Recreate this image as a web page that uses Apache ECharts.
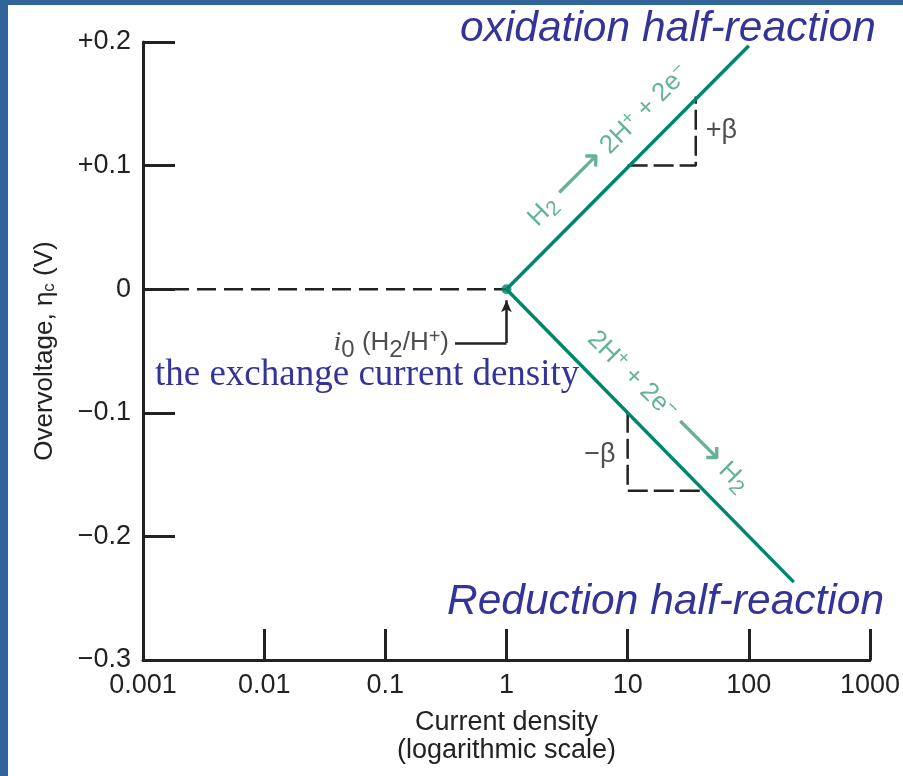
<!DOCTYPE html>
<html>
<head>
<meta charset="utf-8">
<script src="https://cdn.jsdelivr.net/npm/echarts@6/dist/echarts.min.js"></script>
<style>
  html, body { margin: 0; padding: 0; background: #fff; }
  #chart { width: 903px; height: 776px; }
</style>
</head>
<body>
<div id="chart"></div>
<script>
// axis ticks
const xTicks = ['0.001', '0.01', '0.1', '1', '10', '100', '1000'];
const yTicks = ['\u22120.3', '\u22120.2', '\u22120.1', '0', '+0.1', '+0.2'];

// overvoltage lines (current density, overvoltage)
const oxCurrent = [1, 100];
const oxEta = [0, 0.197];
const redCurrent = [1, 235];
const redEta = [0, -0.237];

// exchange current density point
const i0 = [1, 0];

// slope triangles
const plusBetaI = [10, 36.5, 36.5];
const plusBetaEta = [0.1, 0.1, 0.156];
const minusBetaI = [10, 10, 42];
const minusBetaEta = [-0.1, -0.163, -0.163];

const green = '#00876a';
const lightGreen = '#3f9f80';
const navy = '#333399';
const ink = '#222';

const zip = (a, b) => a.map((v, i) => [v, b[i]]);

// rich styles for the reaction labels on the lines
const reactRich = {
  b: { fontFamily: 'Liberation Sans', fontSize: 26, color: lightGreen },
  s: { fontFamily: 'Liberation Sans', fontSize: 21, color: lightGreen, padding: [12, 0, 0, 0] },
  p: { fontFamily: 'Liberation Sans', fontSize: 19, color: lightGreen, padding: [0, 0, 12, 0] },
  a: { fontFamily: 'DejaVu Sans', fontSize: 40, color: lightGreen }
};

const chart = echarts.init(document.getElementById('chart'));

chart.setOption({
  backgroundColor: '#ffffff',
  animation: false,
  grid: { left: 143, right: 33, top: 42, bottom: 116, containLabel: false },
  xAxis: {
    type: 'log',
    logBase: 10,
    min: 0.001,
    max: 1000,
    name: 'Current density\n(logarithmic scale)',
    nameLocation: 'middle',
    nameGap: 49,
    nameTextStyle: { fontFamily: 'Liberation Sans', fontSize: 27, color: ink, lineHeight: 28 },
    axisLine: { onZero: false, lineStyle: { color: ink, width: 3 } },
    axisTick: { inside: true, length: 31, lineStyle: { color: ink, width: 3 } },
    minorTick: { show: false },
    splitLine: { show: false },
    axisLabel: {
      margin: 12,
      fontFamily: 'Liberation Sans',
      fontSize: 27,
      color: ink,
      formatter: (v, i) => xTicks[i]
    }
  },
  yAxis: {
    type: 'value',
    min: -0.3,
    max: 0.2,
    interval: 0.1,
    name: 'Overvoltage, \u03b7{s|c} (V)',
    nameLocation: 'middle',
    nameRotate: 90,
    nameGap: 85,
    nameTextStyle: {
      fontFamily: 'Liberation Sans', fontSize: 26, color: ink,
      rich: { s: { fontFamily: 'Liberation Sans', fontSize: 17, color: ink, padding: [10, 0, 0, 0] } }
    },
    axisLine: { show: true, onZero: false, lineStyle: { color: ink, width: 3 } },
    axisTick: { show: true, inside: true, length: 32, lineStyle: { color: ink, width: 3 } },
    splitLine: { show: false },
    axisLabel: {
      margin: 12,
      fontFamily: 'Liberation Sans',
      fontSize: 27,
      color: ink,
      formatter: (v, i) => yTicks[i]
    }
  },
  series: [
    {
      type: 'line',
      data: zip([0.001, i0[0]], [0, i0[1]]),
      symbol: 'none',
      lineStyle: { color: ink, width: 2.5, type: [19, 8] },
      z: 2
    },
    {
      type: 'line',
      data: zip(plusBetaI, plusBetaEta),
      symbol: 'none',
      lineStyle: { color: ink, width: 2.5, type: [20, 6] },
      z: 2
    },
    {
      type: 'line',
      data: zip(minusBetaI, minusBetaEta),
      symbol: 'none',
      lineStyle: { color: ink, width: 2.5, type: [20, 6] },
      z: 2
    },
    {
      type: 'line',
      data: zip(oxCurrent, oxEta),
      symbol: 'none',
      lineStyle: { color: green, width: 3.5 },
      z: 3
    },
    {
      type: 'line',
      data: zip(redCurrent, redEta),
      symbol: 'none',
      lineStyle: { color: green, width: 3.5 },
      z: 3
    },
    {
      type: 'scatter',
      data: [i0],
      symbolSize: 10,
      itemStyle: { color: green },
      z: 4,
      markLine: {
        silent: true,
        animation: false,
        label: { show: false },
        lineStyle: { color: ink, width: 2.5, type: 'solid' },
        data: [
          [
            { coord: [0.376, -0.0435], symbol: 'none' },
            { coord: [1, -0.0435], symbol: 'none' }
          ],
          [
            { coord: [1, -0.0435], symbol: 'none' },
            { coord: [1, -0.009], symbol: 'arrow', symbolSize: [8, 12] }
          ]
        ]
      }
    },
    {
      // text annotations anchored in data space
      type: 'scatter',
      symbolSize: 0,
      silent: true,
      z: 5,
      data: [
        {
          value: [0.376, -0.0435],
          label: {
            show: true, position: 'left', distance: 6,
            formatter: '{i|i}{s|0}{g| }(H{s|2}/H{p|+})',
            fontFamily: 'Liberation Sans', fontSize: 26, color: ink,
            rich: {
              i: { fontFamily: 'Liberation Serif', fontStyle: 'italic', fontSize: 28, color: ink },
              s: { fontFamily: 'Liberation Sans', fontSize: 24, color: ink, padding: [14, 0, 0, 0] },
              p: { fontFamily: 'Liberation Sans', fontSize: 20, color: ink, padding: [0, 0, 10, 0] },
              g: { fontSize: 26 }
            }
          }
        },
        {
          value: [36.5, 0.128],
          label: {
            show: true, position: 'right', distance: 10,
            formatter: '+\u03b2',
            fontFamily: 'Liberation Sans', fontSize: 27, color: ink
          }
        },
        {
          value: [10, -0.134],
          label: {
            show: true, position: 'left', distance: 12,
            formatter: '\u2212\u03b2',
            fontFamily: 'Liberation Sans', fontSize: 27, color: ink
          }
        },
        {
          value: [7.0, 0.116],
          label: {
            show: true, position: 'inside', rotate: 45,
            formatter: '{b|H}{s|2}{b| }{a|\u27f6}{b| 2H}{p|+}{b| + 2e}{p|\u2212}',
            rich: reactRich
          }
        },
        {
          value: [21.5, -0.099],
          label: {
            show: true, position: 'inside', rotate: -45,
            formatter: '{b|2H}{p|+}{b| + 2e}{p|\u2212}{b| }{a|\u27f6}{b| H}{s|2}',
            rich: reactRich
          }
        }
      ]
    }
  ],
  graphic: [
    { type: 'rect', left: 0, top: 0, shape: { width: 8, height: 776 }, style: { fill: '#31659a' }, z: 100 },
    { type: 'rect', left: 0, top: 0, shape: { width: 903, height: 5 }, style: { fill: '#31659a' }, z: 100 },
    {
      type: 'text', x: 460, y: 29, z: 50,
      style: {
        text: 'oxidation half-reaction', fill: navy,
        font: 'italic 42.5px "Liberation Sans"', textVerticalAlign: 'middle'
      }
    },
    {
      type: 'text', x: 447, y: 602, z: 50,
      style: {
        text: 'Reduction half-reaction', fill: navy,
        font: 'italic 42.5px "Liberation Sans"', textVerticalAlign: 'middle'
      }
    },
    {
      type: 'text', x: 155, y: 375, z: 50,
      style: {
        text: 'the exchange current density', fill: navy,
        font: '37px "Liberation Serif"', textVerticalAlign: 'middle'
      }
    }
  ]
});
</script>
</body>
</html>
